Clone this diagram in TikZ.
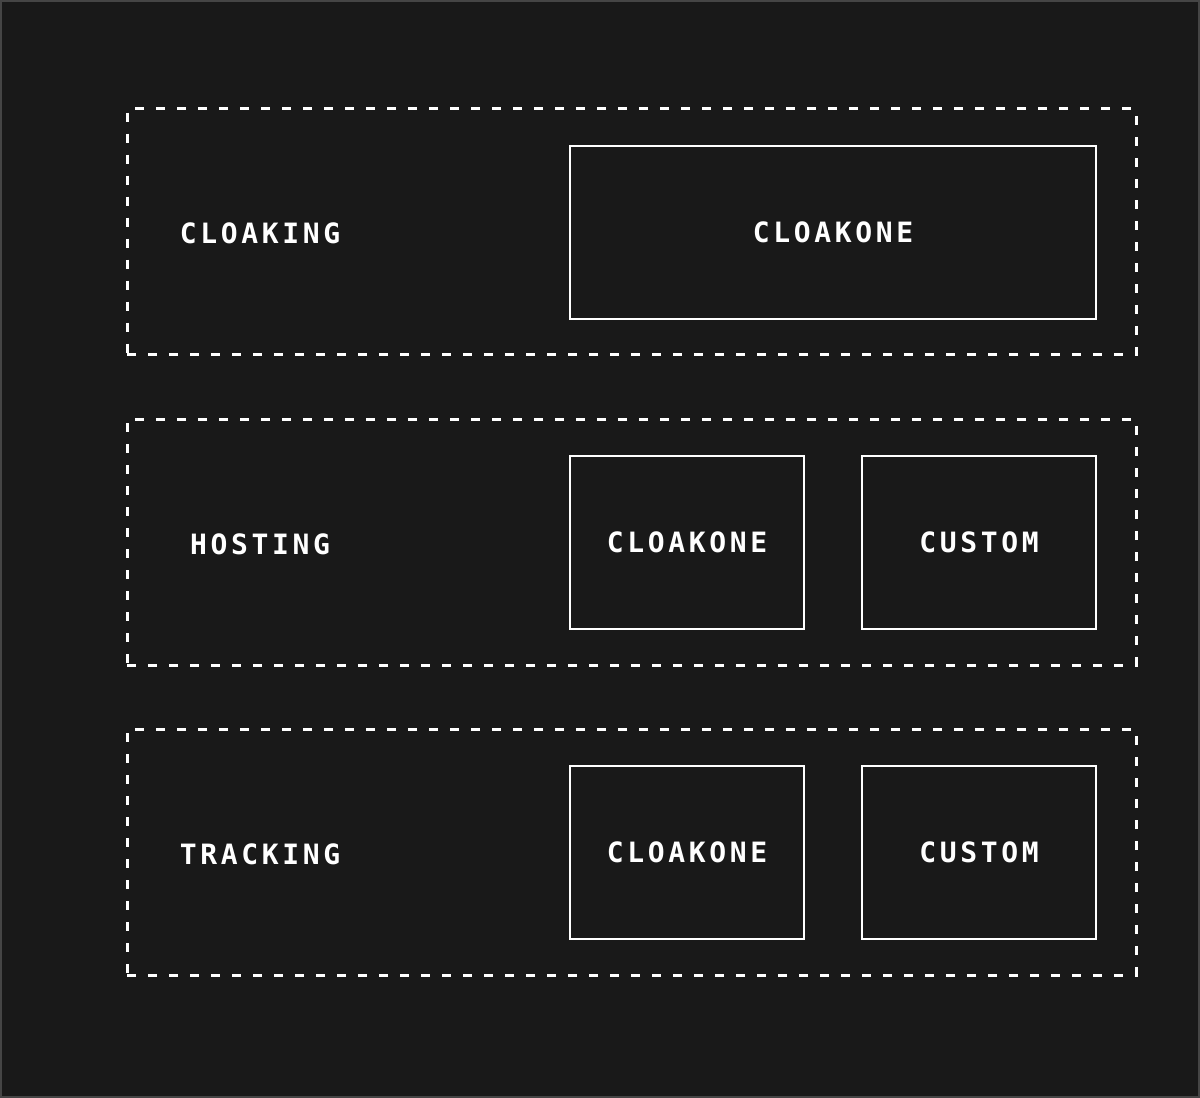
\documentclass[tikz,border=0pt]{standalone}
\usepackage{fontspec}
\usepackage{xcolor}
\newfontfamily\labelfont{DejaVu Sans Mono}[LetterSpace=13]
\newcommand{\lbl}{\labelfont\bfseries\fontsize{28}{32}\selectfont}
\definecolor{bgdark}{HTML}{191919}
\definecolor{frame}{HTML}{454545}

\tikzset{
  group/.style={draw=white, line width=3pt, dash pattern=on 9pt off 12pt,
    minimum width=1009pt, minimum height=246pt, inner sep=0pt},
  panel/.style={draw=white, line width=2.5pt, text=white, font=\lbl,
    minimum height=173pt, inner sep=0pt},
  caption/.style={text=white, font=\lbl, inner sep=0pt},
}

\begin{document}
\begin{tikzpicture}[x=1pt,y=-1pt]
                \useasboundingbox (0,0) rectangle (1200,1098);
                \fill[bgdark] (0,0) rectangle (1200,1098);
                \draw[frame, line width=2pt] (1,1) rectangle (1199,1097);

                \node[group] (GCloak) at (631.5, 231.5) {};
                \node[group] (GHost) at (631.5, 542) {};
                \node[group] (GTrack) at (631.5, 852) {};

                \node[caption] (Cloaking) at (260, 233.5) {CLOAKING};
                \node[caption] (Hosting) at (260, 544.5) {HOSTING};
                \node[caption] (Tracking) at (260, 854.5) {TRACKING};

                \node[panel, minimum width=526pt] (CloakOne) at (833, 232.5) {CLOAKONE};
                \node[panel, minimum width=234pt] (HostOne) at (687, 542.5) {CLOAKONE};
                \node[panel, minimum width=234pt] (HostCustom) at (979, 542.5) {CUSTOM};
                \node[panel, minimum width=234pt] (TrackOne) at (687, 852.5) {CLOAKONE};
                \node[panel, minimum width=234pt] (TrackCustom) at (979, 852.5) {CUSTOM};
            \end{tikzpicture}
\end{document}
